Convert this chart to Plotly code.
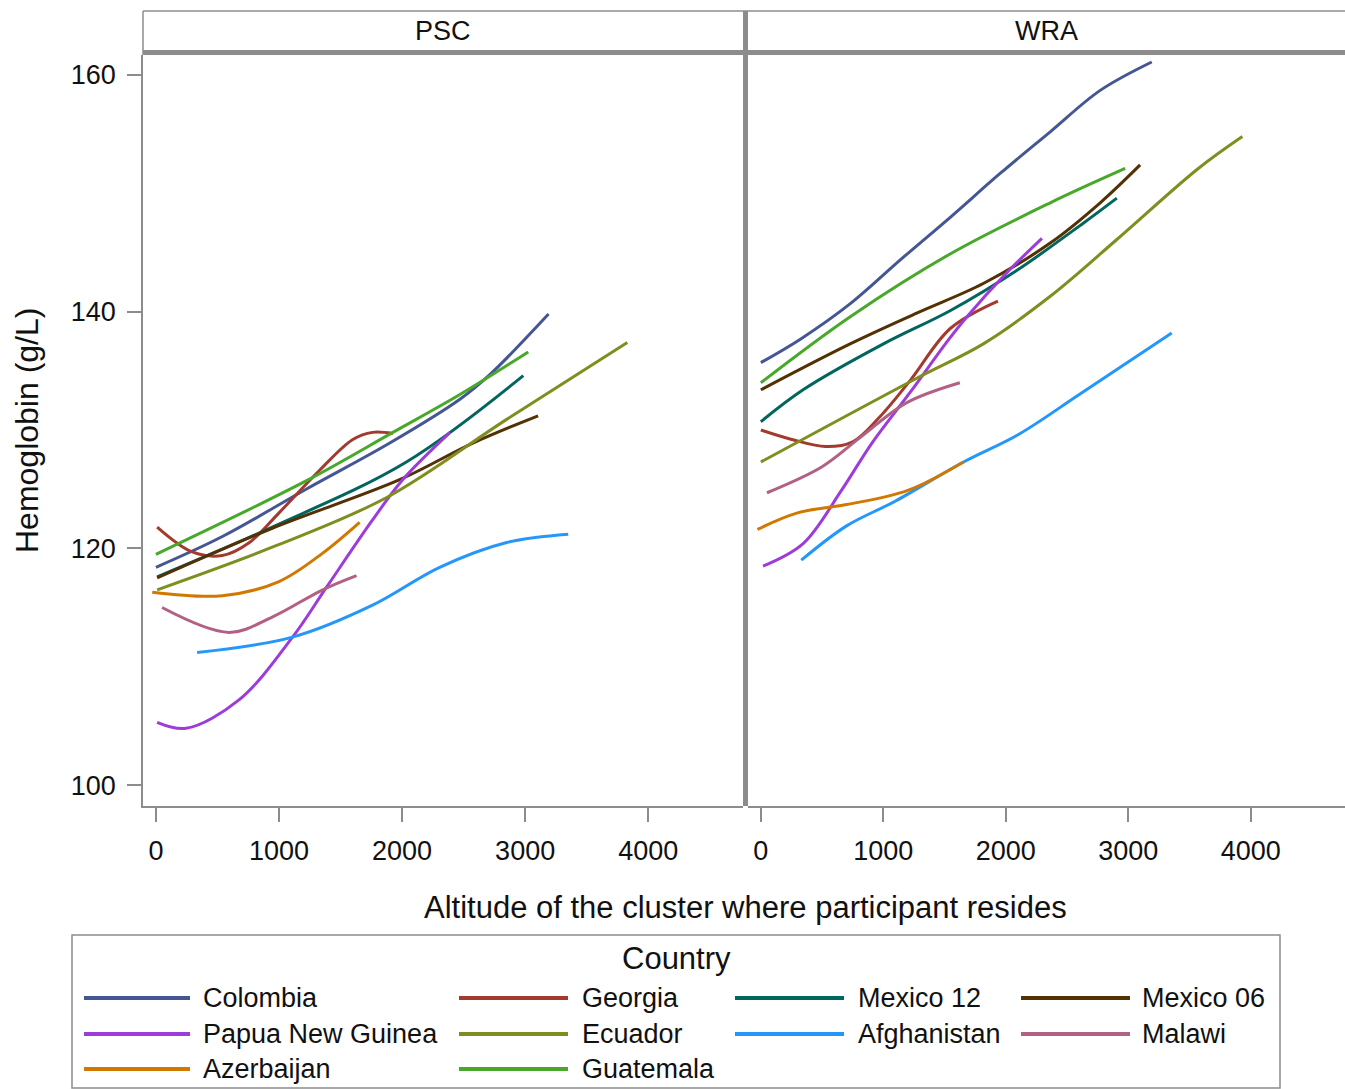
import plotly.graph_objects as go

# ---------------- data ----------------
countries = ["Colombia", "Georgia", "Mexico 12", "Mexico 06", "Papua New Guinea",
             "Ecuador", "Afghanistan", "Malawi", "Azerbaijan", "Guatemala"]
colors = ["#445694", "#A23A2E", "#01665E", "#543005", "#9D3CDB",
          "#7F8E1F", "#2597FA", "#B26084", "#D17800", "#47A82A"]

panels = ["PSC", "WRA"]
x_ticks = [0, 1000, 2000, 3000, 4000]
y_ticks = [100, 120, 140, 160]

# PSC panel: altitude (m) and hemoglobin (g/L)
psc_alt = {
    "Colombia":         [0, 540, 1220, 1900, 2470, 2715, 3190],
    "Georgia":          [10, 295, 540, 760, 1000, 1330, 1600, 1760, 1925],
    "Mexico 12":        [10, 945, 2035, 2985],
    "Mexico 06":        [10, 945, 1980, 2575, 3105],
    "Papua New Guinea": [10, 245, 675, 1110, 1385, 1760, 2005, 2390],
    "Ecuador":          [10, 945, 1875, 2850, 3830],
    "Afghanistan":      [335, 1110, 1760, 2305, 2850, 3350],
    "Malawi":           [50, 595, 945, 1355, 1630],
    "Azerbaijan":       [-30, 540, 1000, 1355, 1655],
    "Guatemala":        [0, 1220, 1925, 2470, 3025],
}
psc_hb = {
    "Colombia":         [118.4, 121.0, 125.0, 128.9, 132.6, 134.7, 139.8],
    "Georgia":          [121.8, 119.7, 119.4, 120.5, 123.0, 126.6, 129.2, 129.8, 129.7],
    "Mexico 12":        [117.6, 121.8, 127.3, 134.6],
    "Mexico 06":        [117.5, 121.7, 125.8, 128.9, 131.2],
    "Papua New Guinea": [105.3, 104.8, 107.2, 112.5, 116.7, 122.4, 125.8, 129.8],
    "Ecuador":          [116.5, 120.1, 124.3, 130.9, 137.4],
    "Afghanistan":      [111.2, 112.5, 115.2, 118.4, 120.5, 121.2],
    "Malawi":           [115.0, 112.9, 114.2, 116.5, 117.7],
    "Azerbaijan":       [116.3, 116.0, 117.2, 119.6, 122.2],
    "Guatemala":        [119.5, 125.7, 129.8, 133.0, 136.6],
}

# WRA panel: altitude (m) and hemoglobin (g/L)
wra_alt = {
    "Colombia":         [0, 326, 733, 1141, 1549, 1956, 2363, 2771, 3192],
    "Georgia":          [0, 253, 530, 750, 970, 1220, 1549, 1936],
    "Mexico 12":        [0, 345, 1005, 1549, 2092, 2635, 2907],
    "Mexico 06":        [0, 733, 1277, 1820, 2363, 2771, 3097],
    "Papua New Guinea": [18, 345, 658, 907, 1220, 1530, 1685, 2000, 2295],
    "Ecuador":          [0, 1277, 1820, 2363, 2907, 3572, 3932],
    "Afghanistan":      [330, 700, 1100, 1655, 2100, 2600, 3355],
    "Malawi":           [50, 500, 815, 1188, 1625],
    "Azerbaijan":       [-28, 300, 700, 1200, 1655],
    "Guatemala":        [0, 733, 1549, 2363, 2975],
}
wra_hb = {
    "Colombia":         [135.7, 137.7, 140.7, 144.4, 148.0, 151.7, 155.2, 158.7, 161.1],
    "Georgia":          [130.0, 129.2, 128.6, 129.0, 131.1, 134.2, 138.6, 140.9],
    "Mexico 12":        [130.7, 133.4, 137.3, 140.1, 143.5, 147.5, 149.6],
    "Mexico 06":        [133.4, 137.3, 139.9, 142.4, 145.8, 149.2, 152.4],
    "Papua New Guinea": [118.5, 120.4, 124.9, 128.9, 133.2, 137.6, 139.6, 143.2, 146.2],
    "Ecuador":          [127.3, 134.4, 137.3, 141.3, 146.1, 152.1, 154.8],
    "Afghanistan":      [119.0, 121.9, 124.0, 127.3, 129.6, 133.0, 138.2],
    "Malawi":           [124.7, 126.9, 129.4, 132.3, 134.0],
    "Azerbaijan":       [121.6, 123.0, 123.7, 124.9, 127.3],
    "Guatemala":        [134.0, 139.6, 144.9, 149.2, 152.1],
}

x_title = "Altitude of the cluster where participant resides"
y_title = "Hemoglobin (g/L)"
legend_title = "Country"

# ---------------- layout geometry (pixels) ----------------
W, H = 1345, 1089
L, R, T, B = 143, 1345, 55, 806          # plot area
PW, PH = R - L, B - T
FONT = "Liberation Sans, Arial, sans-serif"
FRAME = "#8C8C8C"
TXT = "#111111"


def px(x):
    return (x - L) / PW


def py(y):
    return (B - y) / PH


fig = go.Figure()

for c, col in zip(countries, colors):
    fig.add_trace(go.Scatter(x=psc_alt[c], y=psc_hb[c], mode="lines", name=c,
                             line=dict(color=col, width=3, shape="spline", smoothing=1.0),
                             xaxis="x", yaxis="y", showlegend=False))
for c, col in zip(countries, colors):
    fig.add_trace(go.Scatter(x=wra_alt[c], y=wra_hb[c], mode="lines", name=c,
                             line=dict(color=col, width=3, shape="spline", smoothing=1.0),
                             xaxis="x2", yaxis="y2", showlegend=False))

xr = [-105, 4770]
yr = [98.23, 161.69]
axis_common = dict(showgrid=False, zeroline=False, showline=True, linecolor=FRAME,
                   linewidth=1.5, ticks="outside", ticklen=14, tickwidth=1.5,
                   tickcolor=FRAME, tickfont=dict(family=FONT, size=27, color=TXT))

fig.update_layout(
    width=W, height=H,
    margin=dict(l=L, r=W - R, t=T, b=H - B, pad=0),
    paper_bgcolor="white", plot_bgcolor="white",
    showlegend=False,
    xaxis=dict(domain=[0, px(743)], range=xr, tickvals=x_ticks, anchor="y",
               ticklabelstandoff=6, **axis_common),
    xaxis2=dict(domain=[px(748), 1], range=xr, tickvals=x_ticks, anchor="y2",
                ticklabelstandoff=6, **axis_common),
    yaxis=dict(domain=[0, 1], range=yr, tickvals=y_ticks, anchor="x",
               ticklabelstandoff=6, **axis_common),
    yaxis2=dict(domain=[0, 1], range=yr, tickvals=y_ticks, anchor="x2",
                showticklabels=False, showgrid=False, zeroline=False,
                showline=False, ticks=""),
)

shapes = []
top = py(11)
# header strip: top thin line, left edge, thick bottom line
shapes.append(dict(type="line", xref="paper", yref="paper", x0=0, x1=1, y0=top, y1=top,
                   line=dict(color=FRAME, width=1.5)))
shapes.append(dict(type="line", xref="paper", yref="paper", x0=0, x1=0, y0=1, y1=top,
                   line=dict(color=FRAME, width=1.5)))
shapes.append(dict(type="rect", xref="paper", yref="paper", x0=0, x1=1, y0=1, y1=py(50),
                   fillcolor=FRAME, line=dict(width=0)))
# thick divider between panels
shapes.append(dict(type="rect", xref="paper", yref="paper", x0=px(743), x1=px(748),
                   y0=0, y1=top, fillcolor=FRAME, line=dict(width=0)))
# legend box
shapes.append(dict(type="rect", xref="paper", yref="paper", x0=px(72), x1=px(1280),
                   y0=py(1088), y1=py(935), line=dict(color=FRAME, width=1.5)))

annotations = []
annotations.append(dict(text=panels[0], x=px((L + 743) / 2), y=py(31), xref="paper", yref="paper",
                        showarrow=False, font=dict(family=FONT, size=27, color=TXT),
                        xanchor="center", yanchor="middle"))
annotations.append(dict(text=panels[1], x=px((748 + R) / 2), y=py(31), xref="paper", yref="paper",
                        showarrow=False, font=dict(family=FONT, size=27, color=TXT),
                        xanchor="center", yanchor="middle"))
annotations.append(dict(text=x_title, x=px(745), y=py(907), xref="paper", yref="paper",
                        showarrow=False, font=dict(family=FONT, size=31, color=TXT),
                        xanchor="center", yanchor="middle"))
annotations.append(dict(text=y_title, x=px(27), y=py(431), xref="paper", yref="paper",
                        showarrow=False, textangle=-90, font=dict(family=FONT, size=32, color=TXT),
                        xanchor="center", yanchor="middle"))
annotations.append(dict(text=legend_title, x=px(676), y=py(959), xref="paper", yref="paper",
                        showarrow=False, font=dict(family=FONT, size=31, color=TXT),
                        xanchor="center", yanchor="middle"))

col_lines = [(84, 190), (459, 568), (735, 844), (1021, 1130)]
col_text = [201, 580, 856, 1140]
row_y = [998, 1034, 1069]
for i, (c, col) in enumerate(zip(countries, colors)):
    r, k = divmod(i, 4)
    x0, x1 = col_lines[k]
    yy = py(row_y[r])
    shapes.append(dict(type="line", xref="paper", yref="paper", x0=px(x0), x1=px(x1),
                       y0=yy, y1=yy, line=dict(color=col, width=4)))
    annotations.append(dict(text=c, x=px(col_text[k]), y=yy, xref="paper", yref="paper",
                            showarrow=False, font=dict(family=FONT, size=27, color=TXT),
                            xanchor="left", yanchor="middle"))

fig.update_layout(shapes=shapes, annotations=annotations)
fig.write_html("out.html", config={"displayModeBar": False},
               post_script="document.body.style.margin='0px';document.body.style.overflow='hidden';")
